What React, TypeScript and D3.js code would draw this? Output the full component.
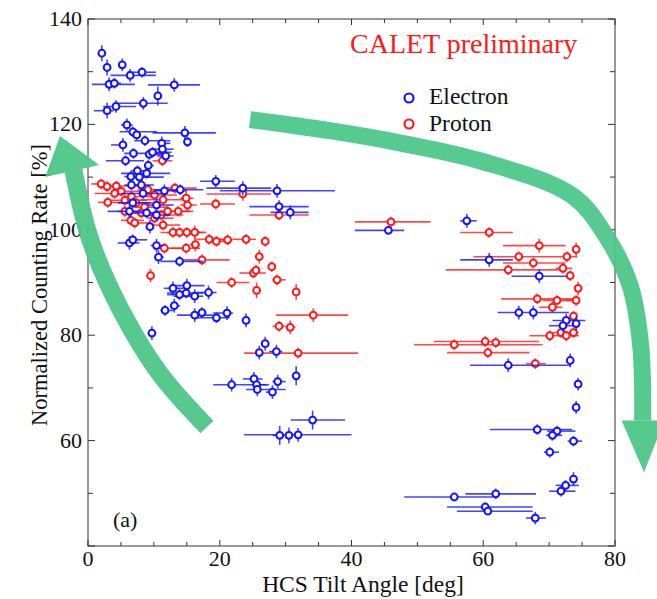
import React from 'react';
import * as d3 from 'd3';

// [tilt, rate, tiltLo, tiltHi, rateErr]
const electron: number[][] = [
  [2.1, 133.5, 2.1, 2.1, 1.5], [2.9, 130.8, 2.9, 2.9, 1.5], [5.2, 131.3, 5.2, 5.2, 1.2],
  [6.4, 129.3, 3.4, 10.3, 1.2], [8.2, 129.9, 6.0, 10.3, 1], [3.2, 127.6, 0.6, 7.1, 1.3],
  [4.0, 127.8, 3.5, 5.0, 1], [13.1, 127.5, 9.1, 17.0, 1.3], [10.6, 125.4, 10.6, 10.6, 1.8],
  [8.4, 124.0, 4.3, 12.1, 1.2], [4.25, 123.4, 2.3, 7.3, 1.2], [2.9, 122.6, 0.9, 3.9, 1.5],
  [5.9, 119.9, 5.0, 6.8, 1.2], [6.8, 118.6, 4.8, 10.5, 1], [7.4, 118.0, 7.0, 8.0, 1],
  [14.7, 118.4, 9.8, 19.4, 1.3], [15.1, 116.7, 15.1, 15.1, 1], [5.3, 116.1, 3.5, 5.5, 1.3],
  [8.65, 116.9, 7.0, 12.5, 1], [11.2, 116.4, 10.5, 12.5, 1.3], [11.3, 115.3, 9.5, 13.0, 1],
  [6.9, 114.5, 5.5, 11.5, 1], [9.3, 114.3, 9.0, 12.0, 1], [9.8, 114.7, 9.0, 12.7, 1],
  [11.8, 114.0, 10.5, 13.0, 1.2], [5.7, 113.1, 2.7, 8.5, 1], [9.15, 112.2, 8.5, 10.0, 1],
  [7.5, 111.2, 6.5, 9.5, 1], [8.9, 110.7, 5.0, 12.5, 1], [6.5, 110.1, 5.5, 7.5, 1],
  [7.8, 110.0, 6.0, 11.5, 1], [6.6, 108.5, 5.5, 8.0, 1], [8.1, 108.5, 7.0, 10.0, 1],
  [19.4, 109.2, 17.0, 22.3, 1.2], [23.5, 107.9, 18.0, 27.8, 1.3], [28.7, 107.4, 20.0, 37.5, 1.3],
  [8.35, 106.9, 5.0, 12.0, 1], [11.6, 107.4, 10.0, 15.0, 1.2], [14.0, 107.6, 10.0, 17.5, 1],
  [6.8, 105.1, 4.5, 9.5, 1], [10.4, 104.7, 9.0, 13.0, 1.2], [6.3, 103.5, 3.0, 9.0, 1.2],
  [8.9, 103.2, 7.0, 10.5, 1], [10.4, 102.8, 9.5, 12.5, 1], [29.0, 104.4, 24.5, 33.5, 1.2],
  [30.7, 103.3, 27.7, 33.5, 1.3], [9.4, 100.6, 9.4, 9.4, 1.3], [6.3, 97.5, 4.5, 7.8, 1.3],
  [6.8, 98.1, 6.5, 9.0, 1], [10.4, 97.0, 9.5, 11.5, 1.3], [10.7, 94.8, 10.0, 11.5, 1.3],
  [13.9, 94.0, 11.0, 17.5, 1], [45.6, 99.9, 40.5, 48.0, 0.5], [57.5, 101.7, 56.5, 59.0, 1.3],
  [60.9, 94.3, 56.5, 64.5, 1.3], [68.5, 91.2, 64.3, 72.7, 1.3], [65.4, 84.3, 62.2, 73.0, 1.3],
  [67.6, 84.3, 67.6, 67.6, 1.3], [72.6, 82.8, 70.5, 75.5, 1.3], [74.1, 82.2, 74.1, 74.1, 1.3],
  [72.1, 81.8, 70.0, 74.5, 1.3], [63.8, 74.3, 58.0, 73.2, 1.3], [73.2, 75.2, 73.2, 73.2, 1.3],
  [74.4, 70.7, 74.4, 74.4, 1.2], [74.1, 66.3, 74.1, 74.1, 1.2], [68.2, 62.1, 61.0, 73.5, 1],
  [71.2, 61.8, 69.7, 74.0, 1], [70.5, 61.0, 69.5, 72.0, 1], [73.7, 59.9, 72.8, 75.0, 1],
  [70.1, 57.8, 69.2, 71.5, 1], [73.7, 52.7, 73.7, 73.7, 1.3], [72.5, 51.5, 71.0, 74.5, 1],
  [71.8, 50.4, 70.0, 74.0, 1], [61.9, 49.9, 57.3, 68.0, 1], [55.6, 49.3, 48.0, 61.5, 0.5],
  [60.3, 47.4, 54.5, 67.5, 0.8], [60.7, 46.6, 56.0, 67.5, 0.5], [67.9, 45.3, 66.5, 69.5, 1.2],
  [15.0, 89.4, 12.5, 17.7, 1.3], [12.9, 88.9, 11.5, 14.5, 1.3], [13.9, 87.7, 12.0, 16.0, 1],
  [14.9, 88.0, 12.0, 17.5, 1], [16.2, 87.4, 13.0, 17.5, 1.3], [18.3, 88.1, 16.5, 19.5, 1.3],
  [13.1, 85.6, 12.5, 14.0, 1.3], [11.7, 84.7, 11.0, 13.0, 1], [16.2, 83.8, 13.5, 19.0, 1.3],
  [17.3, 84.3, 17.0, 18.0, 1], [19.5, 83.3, 16.0, 21.5, 1], [21.1, 84.2, 19.0, 22.0, 1.3],
  [24.0, 82.8, 24.0, 24.0, 1.3], [9.7, 80.4, 9.7, 9.7, 1.3], [26.9, 78.4, 26.9, 26.9, 1.3],
  [26.0, 76.7, 26.0, 26.0, 1.3], [28.6, 76.9, 27.5, 29.5, 1.3], [31.6, 72.3, 31.6, 31.6, 1.8],
  [21.8, 70.6, 19.0, 27.1, 1.3], [25.2, 71.7, 23.5, 26.5, 1.3], [25.6, 70.6, 25.0, 27.5, 1],
  [25.7, 69.7, 24.0, 30.0, 1.3], [28.8, 71.2, 28.0, 30.0, 1.3], [28.0, 69.2, 27.0, 28.5, 1.3],
  [34.1, 63.9, 30.8, 39.0, 1.8], [29.1, 61.0, 28.0, 29.5, 1.8], [30.5, 61.0, 30.5, 30.5, 1.5],
  [31.9, 61.1, 23.7, 40.0, 1.3],
];

const proton: number[][] = [
  [2.0, 108.7, 0.5, 3.0, 1], [2.9, 108.2, 2.0, 4.5, 1], [4.3, 108.3, 3.0, 9.5, 1],
  [5.05, 107.3, 4.0, 8.0, 1], [3.0, 105.2, 1.5, 5.5, 1], [4.05, 106.9, 1.0, 7.0, 1],
  [5.6, 105.6, 3.5, 9.0, 1], [6.6, 106.3, 5.5, 10.0, 1], [7.3, 105.1, 5.0, 11.0, 1],
  [9.1, 107.6, 7.5, 12.0, 1], [10.1, 106.6, 8.0, 13.5, 1], [11.4, 105.7, 8.0, 14.5, 1],
  [5.6, 103.5, 4.5, 7.5, 1], [6.5, 101.8, 5.0, 8.5, 1], [7.1, 101.3, 6.0, 9.5, 1],
  [8.1, 103.2, 5.5, 11.0, 1], [8.6, 104.3, 7.0, 12.0, 1], [10.1, 102.2, 9.0, 13.0, 1],
  [11.1, 102.8, 8.5, 14.5, 1], [12.1, 103.5, 10.0, 15.5, 1], [13.2, 107.9, 11.5, 16.5, 1],
  [14.9, 106.0, 14.0, 16.0, 1.3], [15.1, 104.7, 14.0, 16.5, 1], [13.7, 103.5, 11.5, 16.0, 1],
  [19.4, 104.9, 17.0, 22.3, 1], [23.5, 106.8, 18.0, 27.8, 1.3], [29.0, 102.8, 24.5, 33.5, 1],
  [11.4, 100.9, 9.5, 14.0, 1], [12.9, 99.5, 11.0, 16.5, 1], [13.9, 99.5, 12.0, 17.0, 1],
  [15.0, 99.5, 13.5, 17.5, 1], [16.2, 99.5, 14.0, 18.0, 1.3], [18.4, 98.2, 16.5, 21.0, 1],
  [19.5, 97.8, 18.0, 21.5, 1], [21.2, 98.1, 20.0, 22.0, 1], [24.0, 98.2, 22.0, 25.5, 1],
  [26.9, 97.8, 26.9, 26.9, 1], [11.6, 96.5, 10.0, 14.5, 1], [14.9, 96.5, 12.5, 17.0, 1],
  [16.3, 97.2, 15.5, 17.0, 1.3], [17.3, 94.3, 14.0, 21.5, 1], [26.0, 94.9, 26.0, 26.0, 1.3],
  [27.9, 93.0, 27.9, 27.9, 1], [9.5, 91.3, 9.5, 9.5, 1.3], [25.1, 91.8, 23.0, 27.0, 1],
  [25.5, 92.3, 25.5, 25.5, 1], [21.8, 90.0, 19.5, 24.5, 1], [28.7, 90.5, 28.0, 30.0, 1],
  [25.6, 88.5, 25.6, 25.6, 1.5], [31.6, 88.2, 31.6, 31.6, 1.5], [29.0, 81.7, 28.0, 30.0, 1],
  [30.7, 81.5, 30.0, 31.5, 1.3], [34.2, 83.8, 28.5, 39.5, 1.3], [31.9, 76.6, 23.7, 41.0, 1],
  [11.3, 113.1, 9.8, 12.8, 1], [46.0, 101.5, 40.5, 52.0, 1], [60.9, 99.5, 56.5, 64.5, 1],
  [68.5, 97.0, 63.0, 72.5, 1.3], [74.1, 96.3, 74.1, 74.1, 1.3], [65.4, 94.9, 58.5, 74.3, 1],
  [72.7, 94.9, 72.7, 72.7, 1], [67.6, 93.7, 63.0, 72.5, 1], [63.8, 92.4, 54.3, 72.0, 1],
  [72.1, 92.7, 71.0, 73.5, 1], [73.2, 91.3, 73.2, 73.2, 1], [74.4, 88.9, 74.4, 74.4, 1.3],
  [68.2, 86.9, 62.7, 73.7, 1], [71.2, 86.6, 69.0, 74.0, 1], [74.1, 86.6, 72.5, 74.5, 1],
  [70.5, 85.3, 68.5, 72.0, 1], [73.7, 83.6, 73.7, 73.7, 1], [71.8, 80.5, 70.5, 73.5, 1],
  [73.7, 80.5, 72.5, 74.5, 1], [70.1, 79.9, 67.0, 74.5, 1], [72.6, 79.9, 72.6, 72.6, 1],
  [55.6, 78.2, 49.5, 69.0, 1], [60.3, 78.8, 52.5, 68.5, 1], [61.9, 78.6, 61.9, 61.9, 1],
  [60.7, 76.7, 54.5, 67.0, 1], [67.9, 74.6, 66.5, 69.5, 1],
];

const xTicks = [0, 20, 40, 60, 80];
const yTicks = [60, 80, 100, 120, 140];

// green trend arrows, in data units
const leftArrow = [[18.05, 62.6], [10.9, 72.7], [4.9, 85.0], [0.3, 98.3], [-2.3, 111.9]];
const leftHead = [[-4.25, 117.8], [-6.5, 110.0], [1.7, 112.3]];
const rightArrow = [[24.6, 120.9], [36.7, 118.8], [47.3, 116.5], [59.5, 113.1], [73.5, 106.5],
  [78.6, 98.9], [82.3, 89.4], [83.9, 78.0], [84.2, 63.8]];
const rightHead = [[84.4, 54.0], [81.0, 63.8], [87.5, 63.8]];

const W = 657, H = 599;
const M = { left: 88, right: 615, top: 19, bottom: 546 };
const BLUE = '#1414ff', RED = '#ff1a1a', GREEN = '#4dc78a';
const FONT = "'Liberation Serif', 'Times New Roman', Times, serif";

export default function App() {
  const x = d3.scaleLinear().domain([0, 80]).range([M.left, M.right]);
  const y = d3.scaleLinear().domain([40, 140]).range([M.bottom, M.top]);
  const curve = d3.line<number[]>().x(d => x(d[0])).y(d => y(d[1])).curve(d3.curveCatmullRom);
  const head = (pts: number[][]) => 'M' + pts.map(p => `${x(p[0])},${y(p[1])}`).join('L') + 'Z';

  const series = (data: number[][], color: string) => (
    <g>
      {data.map((d, i) => (
        <g key={'e' + i} stroke={color} strokeWidth={1.6} strokeOpacity={0.8}>
          {d[3] > d[2] && <line x1={x(d[2])} x2={x(d[3])} y1={y(d[1])} y2={y(d[1])} />}
          <line x1={x(d[0])} x2={x(d[0])} y1={y(d[1] - d[4])} y2={y(d[1] + d[4])} />
        </g>
      ))}
      {data.map((d, i) => (
        <circle key={'c' + i} cx={x(d[0])} cy={y(d[1])} r={3.4} fill="white" stroke={color} strokeWidth={2} />
      ))}
    </g>
  );

  const xMinor = d3.range(0, 81, 5);
  const yMinor = d3.range(40, 141, 10);

  return (
    <div style={{ position: 'absolute', left: 0, top: 0 }}>
      <svg width={W} height={H} style={{ display: 'block', fontFamily: FONT }}>
        <rect width={W} height={H} fill="white" />
        {series(proton, RED)}
        {series(electron, BLUE)}

        <g fill="none" stroke="#333" strokeWidth={1}>
          <rect x={M.left} y={M.top} width={M.right - M.left} height={M.bottom - M.top} />
          {xMinor.map(t => {
            const len = t % 20 === 0 ? 6 : 4;
            return (
              <g key={'xt' + t}>
                <line x1={x(t)} x2={x(t)} y1={M.bottom} y2={M.bottom - len} />
                <line x1={x(t)} x2={x(t)} y1={M.top} y2={M.top + len} />
              </g>
            );
          })}
          {yMinor.map(t => {
            const len = t % 20 === 0 ? 7 : 5;
            return (
              <g key={'yt' + t}>
                <line x1={M.left} x2={M.left + len} y1={y(t)} y2={y(t)} />
                <line x1={M.right} x2={M.right - len} y1={y(t)} y2={y(t)} />
              </g>
            );
          })}
        </g>

        <g fontSize={22} fill="#111">
          {xTicks.map(t => (
            <text key={'xl' + t} x={x(t)} y={M.bottom + 20} textAnchor="middle">{t}</text>
          ))}
          {yTicks.map(t => (
            <text key={'yl' + t} x={M.left - 6} y={y(t) + 7} textAnchor="end">{t}</text>
          ))}
          <text x={363} y={592} fontSize={23.5} textAnchor="middle">HCS Tilt Angle [deg]</text>
          <text transform="translate(47,285) rotate(-90)" fontSize={22.5} textAnchor="middle">
            Normalized Counting Rate [%]
          </text>
          <text x={113} y={527}>(a)</text>
        </g>

        <text x={350} y={53} fontSize={28} fill={RED}>CALET preliminary</text>
        <circle cx={409} cy={98} r={4.5} fill="white" stroke={BLUE} strokeWidth={2.2} />
        <text x={429} y={104} fontSize={23.5} fill="#111">Electron</text>
        <circle cx={409} cy={124} r={4.5} fill="white" stroke={RED} strokeWidth={2.2} />
        <text x={429} y={131} fontSize={23.5} fill="#111">Proton</text>

        <g fill={GREEN} opacity={0.95}>
          <path d={curve(leftArrow) || ''} fill="none" stroke={GREEN} strokeWidth={18} />
          <path d={head(leftHead)} />
          <path d={curve(rightArrow) || ''} fill="none" stroke={GREEN} strokeWidth={17} />
          <path d={head(rightHead)} />
        </g>
      </svg>
    </div>
  );
}
